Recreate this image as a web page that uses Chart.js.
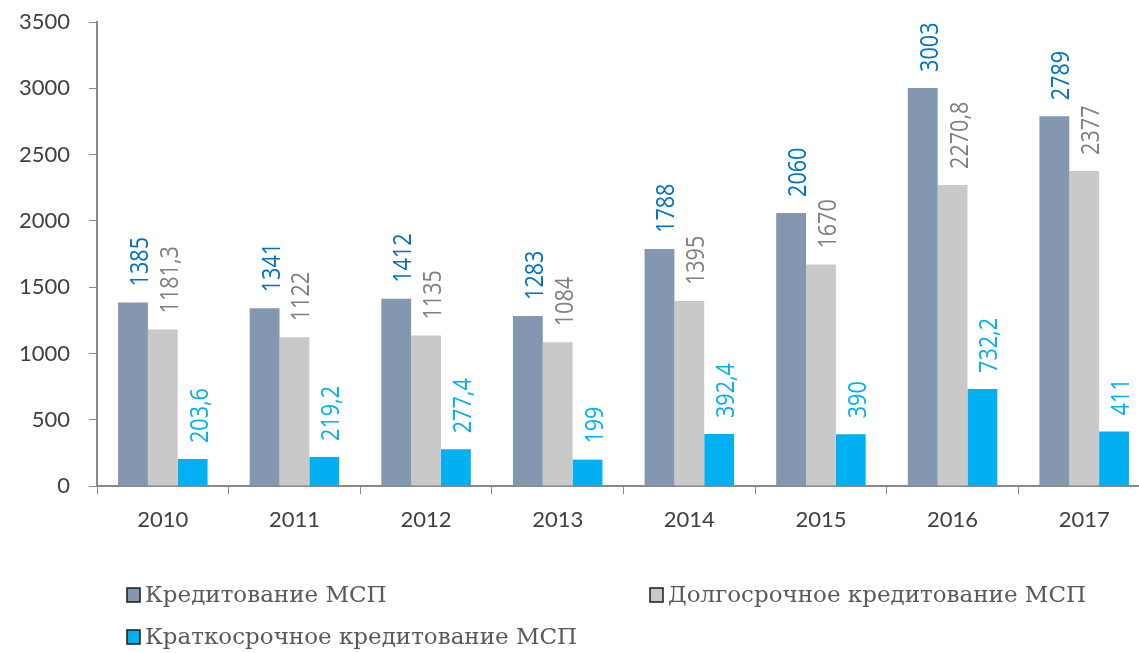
<!DOCTYPE html>
<html>
<head>
<meta charset="utf-8">
<script src="https://cdn.jsdelivr.net/npm/chart.js@4"></script>
<style>
  html, body { margin: 0; padding: 0; background: #fff; overflow: hidden; }
  #wrap { width: 1150px; height: 653px; position: relative; }
</style>
</head>
<body>
<div id="wrap"><canvas id="c" width="1150" height="653"></canvas></div>
<script>
const categories = ['2010', '2011', '2012', '2013', '2014', '2015', '2016', '2017'];
const seriesNames = ['Кредитование МСП', 'Долгосрочное кредитование МСП', 'Краткосрочное кредитование МСП'];
const creditTotal = [1385, 1341, 1412, 1283, 1788, 2060, 3003, 2789];
const creditLong = [1181.3, 1122, 1135, 1084, 1395, 1670, 2270.8, 2377];
const creditShort = [203.6, 219.2, 277.4, 199, 392.4, 390, 732.2, 411];
const yTicks = [0, 500, 1000, 1500, 2000, 2500, 3000, 3500];

const barColors = ['#8497B0', '#C9C9C9', '#00B0F0'];
const labelColors = ['#0070C0', '#808080', '#00B0F0'];
const labelFont = "26px 'Open Sans', sans-serif";

function fmt(v) { return String(v).replace('.', ','); }

const valueLabels = {
  id: 'valueLabels',
  afterDatasetsDraw(chart) {
    const ctx = chart.ctx;
    chart.data.datasets.forEach((ds, di) => {
      const meta = chart.getDatasetMeta(di);
      meta.data.forEach((bar, i) => {
        ctx.save();
        ctx.translate(bar.x + 15, bar.y - 16);
        ctx.rotate(-Math.PI / 2);
        ctx.scale(0.83, 1);
        ctx.font = labelFont;
        ctx.fillStyle = labelColors[di];
        ctx.textAlign = 'left';
        ctx.textBaseline = 'alphabetic';
        ctx.fillText(fmt(ds.data[i]), 0, 0);
        ctx.restore();
      });
    });
  }
};

const gridLegend = {
  id: 'gridLegend',
  afterDraw(chart, args, opts) {
    const ctx = chart.ctx;
    chart.data.datasets.forEach((ds, i) => {
      const col = i % 2, row = Math.floor(i / 2);
      const x = opts.cols[col], y = opts.rows[row];
      ctx.save();
      ctx.fillStyle = ds.backgroundColor;
      ctx.fillRect(x, y - 7, 13, 14);
      ctx.strokeStyle = '#1a1a1a';
      ctx.lineWidth = 1.5;
      ctx.strokeRect(x, y - 7, 13, 14);
      ctx.font = "23px 'DejaVu Serif', serif";
      ctx.fillStyle = '#595959';
      ctx.textAlign = 'left';
      ctx.textBaseline = 'middle';
      ctx.fillText(ds.label, x + 18, y + 1);
      ctx.restore();
    });
  }
};

new Chart(document.getElementById('c'), {
  type: 'bar',
  data: {
    labels: categories,
    datasets: [
      { label: seriesNames[0], data: creditTotal, backgroundColor: barColors[0] },
      { label: seriesNames[1], data: creditLong, backgroundColor: barColors[1] },
      { label: seriesNames[2], data: creditShort, backgroundColor: barColors[2] }
    ]
  },
  options: {
    responsive: false,
    animation: false,
    devicePixelRatio: 1,
    layout: { padding: { top: 22, left: 0, right: 0, bottom: 107 } },
    datasets: { bar: { categoryPercentage: 0.68, barPercentage: 1.0 } },
    plugins: {
      legend: { display: false },
      tooltip: { enabled: false },
      gridLegend: { cols: [127, 650], rows: [595, 637] }
    },
    scales: {
      x: {
        afterFit(scale) { scale.height = 60; },
        grid: { offset: true, display: true, drawOnChartArea: false, tickLength: 8, color: '#888888', lineWidth: 1 },
        border: { display: true, color: '#888888', width: 2 },
        ticks: { color: '#404040', font: { family: 'Lato', size: 22 }, padding: 13, maxRotation: 0 }
      },
      y: {
        min: 0, max: 3500,
        afterFit(scale) { scale.width = 97; scale.paddingTop = 10; scale.paddingBottom = 10; },
        afterBuildTicks(scale) { scale.ticks = yTicks.map(v => ({ value: v })); },
        grid: { display: true, drawOnChartArea: false, tickLength: 8, color: '#888888', lineWidth: 1 },
        border: { display: true, color: '#888888', width: 2 },
        ticks: { color: '#404040', font: { family: 'Lato', size: 22 }, padding: 19, callback: v => String(v) }
      }
    }
  },
  plugins: [valueLabels, gridLegend]
});
</script>
</body>
</html>
